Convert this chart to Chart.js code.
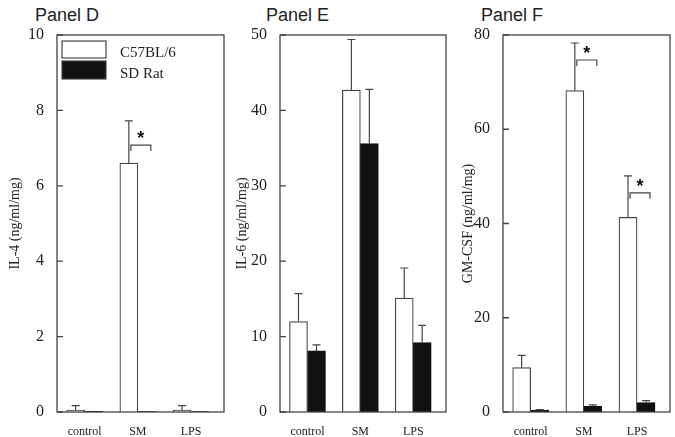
<!DOCTYPE html>
<html>
<head>
<meta charset="utf-8">
<script src="https://cdn.jsdelivr.net/npm/chart.js@4.4.0/dist/chart.umd.min.js"></script>
<style>
  body { margin: 0; background: #fff; width: 675px; height: 437px; position: relative; overflow: hidden; }
  canvas { position: absolute; top: 0; }
  .ptitle { position: absolute; top: 5px; font: 18px 'Liberation Sans', Arial, sans-serif; color: #222; }
</style>
</head>
<body>
<div class="ptitle" style="left:35px">Panel D</div>
<div class="ptitle" style="left:266px">Panel E</div>
<div class="ptitle" style="left:481px">Panel F</div>
<canvas id="chartD" width="226" height="437" style="left:0px"></canvas>
<canvas id="chartE" width="222" height="437" style="left:226px"></canvas>
<canvas id="chartF" width="220" height="437" style="left:452px"></canvas>
<script>
const categories = ['control', 'SM', 'LPS'];
const seriesNames = ['C57BL/6', 'SD Rat'];

// Panel D - IL-4
const il4Mouse = [0.05, 6.6, 0.05];
const il4MouseErr = [0.12, 1.12, 0.12];
const il4Rat = [0.02, 0.01, 0.01];
const il4RatErr = [0, 0, 0];

// Panel E - IL-6
const il6Mouse = [12.0, 42.7, 15.1];
const il6MouseErr = [3.7, 6.7, 4.0];
const il6Rat = [8.1, 35.6, 9.2];
const il6RatErr = [0.8, 7.2, 2.3];

// Panel F - GM-CSF
const gmMouse = [9.4, 68.2, 41.3];
const gmMouseErr = [2.6, 10.1, 8.8];
const gmRat = [0.4, 1.2, 2.0];
const gmRatErr = [0.1, 0.3, 0.4];

// y axis ranges / tick steps
const il4Axis = { max: 10, step: 2 };
const il6Axis = { max: 50, step: 10 };
const gmAxis = { max: 80, step: 20 };

// significance brackets (category index, bracket height in axis units)
const il4Sig = [{ index: 1, level: 7.08 }];
const il6Sig = [];
const gmSig = [{ index: 1, level: 74.7 }, { index: 2, level: 46.5 }];

Chart.defaults.font.family = "'Liberation Serif', 'Times New Roman', serif";
Chart.defaults.color = '#222';

const LINE = '#444';

function extrasPlugin(panel) {
  return {
    id: 'extras',
    afterDatasetsDraw(chart) {
      const ctx = chart.ctx;
      const y = chart.scales.y;
      const errs = [panel.mouseErr, panel.ratErr];
      const vals = [panel.mouse, panel.rat];
      ctx.save();
      ctx.strokeStyle = LINE;
      ctx.lineWidth = 1.2;
      // error bars (upper only)
      errs.forEach((err, d) => {
        const meta = chart.getDatasetMeta(d);
        meta.data.forEach((el, i) => {
          if (!err[i]) return;
          const base = y.getPixelForValue(vals[d][i]);
          const top = y.getPixelForValue(vals[d][i] + err[i]);
          ctx.beginPath();
          ctx.moveTo(el.x, base);
          ctx.lineTo(el.x, top);
          ctx.moveTo(el.x - 4, top);
          ctx.lineTo(el.x + 4, top);
          ctx.stroke();
        });
      });
      // significance brackets
      panel.sig.forEach(s => {
        const x1 = chart.getDatasetMeta(0).data[s.index].x + 2;
        const x2 = chart.getDatasetMeta(1).data[s.index].x + 4;
        const by = y.getPixelForValue(s.level);
        ctx.beginPath();
        ctx.moveTo(x1, by + 6);
        ctx.lineTo(x1, by);
        ctx.lineTo(x2, by);
        ctx.lineTo(x2, by + 6);
        ctx.stroke();
        ctx.fillStyle = '#111';
        ctx.font = "bold 18px 'Liberation Sans', Arial, sans-serif";
        ctx.textAlign = 'center';
        ctx.textBaseline = 'alphabetic';
        ctx.fillText('*', (x1 + x2) / 2, by - 1);
      });
      ctx.restore();
    },
    afterDraw(chart) {
      const ctx = chart.ctx;
      const a = chart.chartArea;
      const y = chart.scales.y;
      ctx.save();
      ctx.strokeStyle = LINE;
      ctx.lineWidth = 1.3;
      ctx.strokeRect(a.left, a.top, a.right - a.left, a.bottom - a.top);
      // inward tick marks
      ctx.beginPath();
      y.ticks.forEach(t => {
        const py = y.getPixelForValue(t.value);
        ctx.moveTo(a.left, py);
        ctx.lineTo(a.left + 6, py);
      });
      ctx.stroke();
      // legend inside panel D
      if (panel.legend) {
        const ds = chart.data.datasets;
        const boxes = [[a.top + 6, 17], [a.top + 26, 18]];
        ds.forEach((d, i) => {
          ctx.fillStyle = d.backgroundColor;
          ctx.fillRect(a.left + 5, boxes[i][0], 44, boxes[i][1]);
          ctx.lineWidth = 1.2;
          ctx.strokeStyle = LINE;
          ctx.strokeRect(a.left + 5, boxes[i][0], 44, boxes[i][1]);
          ctx.fillStyle = '#222';
          ctx.font = "15px 'Liberation Serif', 'Times New Roman', serif";
          ctx.textAlign = 'left';
          ctx.textBaseline = 'alphabetic';
          ctx.fillText(d.label, a.left + 63, a.top + 22 + i * 21);
        });
      }
      ctx.restore();
    }
  };
}

function makePanel(id, panel) {
  const ctx = document.getElementById(id).getContext('2d');
  return new Chart(ctx, {
    type: 'bar',
    data: {
      datasets: [{
        label: seriesNames[0],
        data: panel.mouse.map((v, i) => ({ x: i, y: v })),
        backgroundColor: '#ffffff',
        borderColor: LINE,
        borderWidth: 1.2,
        barThickness: 18
      }, {
        label: seriesNames[1],
        data: panel.rat.map((v, i) => ({ x: i, y: v })),
        backgroundColor: '#111111',
        borderColor: '#111111',
        borderWidth: 1,
        barThickness: 18
      }]
    },
    options: {
      responsive: false,
      animation: false,
      layout: { padding: { top: 35, right: 2, left: 0, bottom: 0 } },
      plugins: { legend: { display: false }, tooltip: { enabled: false } },
      scales: {
        x: {
          type: 'linear',
          min: -0.52,
          max: 2.62,
          offset: false,
          grid: { display: false },
          border: { display: false },
          ticks: {
            padding: 5,
            font: { size: 12 },
            callback: v => categories[v]
          },
          afterBuildTicks: s => { s.ticks = categories.map((c, i) => ({ value: i })); },
          afterFit: s => { s.height = 25; }
        },
        y: {
          min: 0,
          max: panel.axis.max,
          grid: { display: false },
          border: { display: false },
          ticks: { stepSize: panel.axis.step, padding: 5, font: { size: 16 } },
          title: {
            display: true,
            text: panel.yTitle,
            font: { size: 14 },
            padding: { top: panel.titlePad, bottom: 0 }
          },
          afterFit: s => { s.width = panel.axisWidth; }
        }
      }
    },
    plugins: [extrasPlugin(panel)]
  });
}

makePanel('chartD', {
  mouse: il4Mouse, mouseErr: il4MouseErr, rat: il4Rat, ratErr: il4RatErr,
  axis: il4Axis, sig: il4Sig, yTitle: 'IL-4 (ng/ml/mg)', axisWidth: 57, titlePad: 6.6, legend: true
});
makePanel('chartE', {
  mouse: il6Mouse, mouseErr: il6MouseErr, rat: il6Rat, ratErr: il6RatErr,
  axis: il6Axis, sig: il6Sig, yTitle: 'IL-6 (ng/ml/mg)', axisWidth: 54, titlePad: 7.6, legend: false
});
makePanel('chartF', {
  mouse: gmMouse, mouseErr: gmMouseErr, rat: gmRat, ratErr: gmRatErr,
  axis: gmAxis, sig: gmSig, yTitle: 'GM-CSF (ng/ml/mg)', axisWidth: 51, titlePad: 7.6, legend: false
});
</script>
</body>
</html>
